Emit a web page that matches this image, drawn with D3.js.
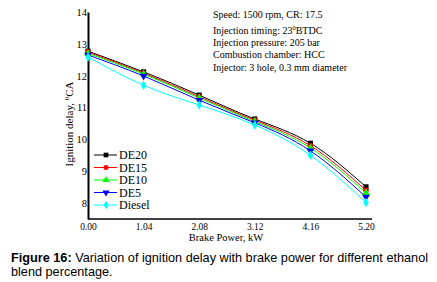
<!DOCTYPE html>
<html>
<head>
<meta charset="utf-8">
<script src="https://cdn.jsdelivr.net/npm/d3@7"></script>
<style>
  body { margin: 0; background: #fff; }
  svg { display: block; }
  .serif { font-family: 'Liberation Serif', 'DejaVu Serif', serif; }
  .sans { font-family: 'Liberation Sans', Arial, sans-serif; }
</style>
</head>
<body>
<div id="chart"></div>
<script>
// values
const power = [0.00, 1.04, 2.08, 3.12, 4.16, 5.20];
const de20 = [12.77, 12.12, 11.39, 10.64, 9.88, 8.51];
const de15 = [12.74, 12.08, 11.34, 10.60, 9.80, 8.40];
const de10 = [12.70, 12.05, 11.30, 10.56, 9.73, 8.32];
const de5 = [12.65, 11.99, 11.23, 10.52, 9.64, 8.19];
const diesel = [12.59, 11.70, 11.08, 10.45, 9.50, 8.02];
const seriesNames = ['DE20', 'DE15', 'DE10', 'DE5', 'Diesel'];
const xTicks = ['0.00', '1.04', '2.08', '3.12', '4.16', '5.20'];
const yTicks = [8, 9, 10, 11, 12, 13, 14];
const notes = [
  'Speed: 1500 rpm, CR: 17.5',
  'Injection timing: 23',
  'Injection pressure: 205 bar',
  'Combustion chamber: HCC',
  'Injector: 3 hole, 0.3 mm diameter'
];

const width = 437, height = 282;

const series = [
  { name: 'DE20', values: de20, color: '#000000', symbol: d3.symbolSquare },
  { name: 'DE15', values: de15, color: '#ff0000', symbol: d3.symbolCircle },
  { name: 'DE10', values: de10, color: '#00ff00', symbol: d3.symbolTriangle },
  { name: 'DE5', values: de5, color: '#0000ff', symbol: 'down' },
  { name: 'Diesel', values: diesel, color: '#00ffff', symbol: d3.symbolDiamond }
];

const svg = d3.select('#chart').append('svg')
  .attr('width', width)
  .attr('height', height);

const x = d3.scaleLinear().domain([0, 5.2]).range([88, 366]);
const y = d3.scaleLinear().domain([7.5, 14]).range([219, 12]);

// axes
const xAxis = svg.append('g')
  .attr('transform', `translate(0,${y(7.5)})`)
  .call(d3.axisBottom(x).tickValues(power).tickFormat((d, i) => xTicks[i]).tickSize(0).tickSizeOuter(0).tickPadding(4));
xAxis.select('.domain').attr('d', `M${x(0)},0H${x(5.2) + 6}`).attr('stroke-width', 1.6);
xAxis.selectAll('text').attr('class', 'serif').attr('font-family', null).attr('font-size', 9.5).attr('fill', '#000');

const yAxis = svg.append('g')
  .attr('transform', `translate(${x(0)},0)`)
  .call(d3.axisLeft(y).tickValues(yTicks).tickFormat(d3.format('d')).tickSize(0).tickSizeOuter(0).tickPadding(1));
yAxis.select('.domain').attr('stroke-width', 2);
yAxis.selectAll('text').attr('class', 'serif').attr('font-family', null).attr('font-size', 10.5).attr('fill', '#000');
xAxis.attr('font-family', null);
yAxis.attr('font-family', null);

// axis titles
svg.append('text')
  .attr('class', 'serif')
  .attr('x', 226).attr('y', 241)
  .attr('text-anchor', 'middle')
  .attr('font-size', 10.5)
  .text('Brake Power, kW');

const yt = svg.append('text')
  .attr('class', 'serif')
  .attr('transform', 'translate(73,124) rotate(-90)')
  .attr('text-anchor', 'middle')
  .attr('font-size', 11);
yt.append('tspan').text('Ignition delay, ');
yt.append('tspan').attr('font-size', 7).attr('dy', -4).text('0');
yt.append('tspan').attr('dy', 4).text('CA');

// lines
const line = d3.line()
  .x((d, i) => x(power[i]))
  .y(d => y(d))
  .curve(d3.curveNatural);

const markerPath = (s, size) => {
  if (s === 'down') {
    return d3.symbol().type(d3.symbolTriangle).size(size)();
  }
  return d3.symbol().type(s).size(size)();
};

series.forEach(s => {
  svg.append('path')
    .attr('d', line(s.values))
    .attr('fill', 'none')
    .attr('stroke', s.color)
    .attr('stroke-width', 1);
});

series.forEach(s => {
  svg.append('g').selectAll('path')
    .data(s.values)
    .enter().append('path')
    .attr('d', markerPath(s.symbol, s.symbol === d3.symbolCircle ? 24 : 26))
    .attr('transform', (d, i) => `translate(${x(power[i])},${y(d)})${s.symbol === 'down' ? ' rotate(180)' : ''}`)
    .attr('fill', s.color);
});

// legend
const legend = svg.append('g');
series.forEach((s, i) => {
  const ly = 155 + i * 12.5;
  legend.append('line')
    .attr('x1', 94).attr('x2', 117)
    .attr('y1', ly).attr('y2', ly)
    .attr('stroke', s.color).attr('stroke-width', 1);
  legend.append('path')
    .attr('d', markerPath(s.symbol, s.symbol === d3.symbolCircle ? 20 : 22))
    .attr('transform', `translate(106,${ly})${s.symbol === 'down' ? ' rotate(180)' : ''}`)
    .attr('fill', s.color);
  legend.append('text')
    .attr('class', 'serif')
    .attr('x', 119).attr('y', ly + 4)
    .attr('font-size', 12)
    .text(seriesNames[i]);
});

// notes
const noteY = [18, 34, 46, 58, 71];
notes.forEach((t, i) => {
  const tx = svg.append('text')
    .attr('class', 'serif')
    .attr('x', 213).attr('y', noteY[i])
    .attr('font-size', 10)
    .text(t);
  if (i === 1) {
    tx.append('tspan').attr('font-size', 6.5).attr('dy', -4).text('0');
    tx.append('tspan').attr('dy', 4).text('BTDC');
  }
});

// caption
const cap = svg.append('text')
  .attr('class', 'sans')
  .attr('x', 11).attr('y', 262)
  .attr('font-size', 12.7);
cap.append('tspan').attr('font-weight', 'bold').text('Figure 16:');
cap.append('tspan').text(' Variation of ignition delay with brake power for different ethanol');
svg.append('text')
  .attr('class', 'sans')
  .attr('x', 11).attr('y', 276)
  .attr('font-size', 12.7)
  .text('blend percentage.');
</script>
</body>
</html>
